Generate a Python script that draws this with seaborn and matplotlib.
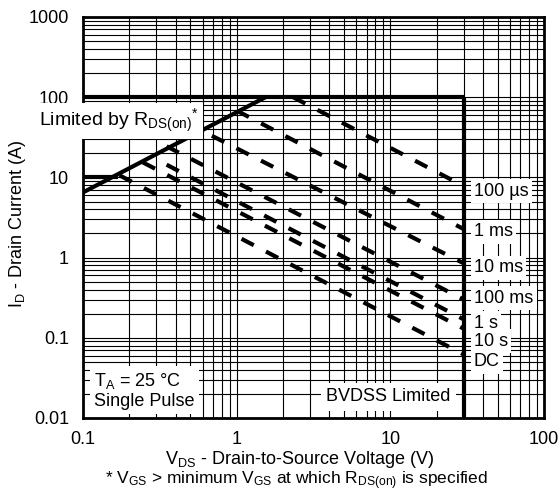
import numpy as np
import pandas as pd
import matplotlib
matplotlib.use("Agg")
import matplotlib.pyplot as plt
import seaborn as sns
from matplotlib.ticker import FixedLocator, FixedFormatter, LogLocator, NullFormatter

# ---------------- data ----------------
curve_names = ["100 µs", "1 ms", "10 ms", "100 ms", "1 s", "10 s", "DC"]
v_start = [2.33, 1.0, 0.69, 0.35, 0.35, 0.245, 0.173]
i_start = [100, 68, 33, 24.4, 14.4, 15.4, 10.6]
v_end = [30, 30, 30, 30, 30, 30, 30]
i_end = [7.8, 2.27, 0.85, 0.30, 0.17, 0.13, 0.062]
label_i = [6.7, 2.1, 0.75, 0.31, 0.152, 0.0905, 0.05]
label_v = 35.0

rds_v = [0.1, 1.54]
rds_i = [6.5, 100]
id_cont_v = [0.1, 0.17]
id_cont_i = [10, 10]
id_pulse_v = [0.1, 30]
id_pulse_i = [100, 100]
bvdss_v = [30, 30]
bvdss_i = [0.01, 100]

x_ticks = [0.1, 1, 10, 100]
x_tick_labels = ["0.1", "1", "10", "100"]
y_ticks = [0.01, 0.1, 1, 10, 100, 1000]
y_tick_labels = ["0.01", "0.1", "1", "10", "100", "1000"]

# ---------------- style ----------------
sns.set_theme(style="white")
plt.rcParams["font.family"] = ["Liberation Sans", "DejaVu Sans"]
plt.rcParams["mathtext.fontset"] = "custom"
plt.rcParams["mathtext.rm"] = "Liberation Sans"
plt.rcParams["mathtext.it"] = "Liberation Sans:italic"
plt.rcParams["mathtext.bf"] = "Liberation Sans:bold"

W, H = 558, 491
fig = plt.figure(figsize=(W / 100, H / 100), dpi=100)
L, R, T, B = 83, 544, 17, 418
ax = fig.add_axes([L / W, 1 - B / H, (R - L) / W, (B - T) / H])
ax.set_xscale("log")
ax.set_yscale("log")

# solid boundary lines
for xs, ys in [(id_pulse_v, id_pulse_i), (bvdss_v, bvdss_i), (id_cont_v, id_cont_i), (rds_v, rds_i)]:
    sns.lineplot(x=xs, y=ys, ax=ax, color="black", linewidth=3, sort=False,
                 estimator=None, solid_capstyle="butt")

# dashed pulse curves
for name, vs, is_, ve, ie in zip(curve_names, v_start, i_start, v_end, i_end):
    df = pd.DataFrame({"V": [vs, ve], "I": [is_, ie]})
    sns.lineplot(data=df, x="V", y="I", ax=ax, color="black", linewidth=3,
                 sort=False, estimator=None, linestyle=(0, (3.3, 3.3)))

ax.set_xlim(0.1, 100)
ax.set_ylim(0.01, 1000)
ax.set_xlabel("")
ax.set_ylabel("")

# grid / ticks
ax.xaxis.set_major_locator(FixedLocator(x_ticks))
ax.xaxis.set_major_formatter(FixedFormatter(x_tick_labels))
ax.yaxis.set_major_locator(FixedLocator(y_ticks))
ax.yaxis.set_major_formatter(FixedFormatter(y_tick_labels))
ax.xaxis.set_minor_locator(LogLocator(base=10, subs=np.arange(2, 10), numticks=50))
ax.yaxis.set_minor_locator(LogLocator(base=10, subs=np.arange(2, 10), numticks=50))
ax.xaxis.set_minor_formatter(NullFormatter())
ax.yaxis.set_minor_formatter(NullFormatter())
ax.set_axisbelow(True)
ax.grid(True, which="both", color="black", linewidth=0.8)
ax.tick_params(which="both", length=0, labelsize=13, colors="black")
ax.tick_params(axis="x", pad=9)
ax.tick_params(axis="y", pad=10)
for s in ax.spines.values():
    s.set_color("black")
    s.set_linewidth(2)

# labels for curves
for name, li in zip(curve_names, label_i):
    ax.text(label_v, li, name, fontsize=13, ha="left", va="center", color="black",
            bbox=dict(facecolor="white", edgecolor="none", pad=2.5), zorder=5)

ax.text(0.0518, 43.5, r"Limited by R$_{\mathregular{DS(on)}}{}^{\mathregular{*}}$",
        fontsize=14, ha="left", va="baseline", color="black", clip_on=False,
        bbox=dict(facecolor="white", edgecolor="none", pad=3), zorder=5)
ax.text(9.7, 0.0184, "BVDSS Limited", fontsize=13, ha="center", va="center",
        color="black", bbox=dict(facecolor="white", edgecolor="none", pad=4), zorder=5)
ax.text(0.118, 0.0222, "T$_{\\mathregular{A}}$ = 25 °C\nSingle Pulse", fontsize=13,
        ha="left", va="center", color="black", linespacing=1.15,
        bbox=dict(facecolor="white", edgecolor="none", pad=3), zorder=5)

# axis labels
fig.text(18 / W, 1 - 224 / H, r"I$_{\mathregular{D}}$ - Drain Current (A)", rotation=90,
         fontsize=13, ha="center", va="center", color="black")
fig.text(300 / W, 1 - 464 / H, r"V$_{\mathregular{DS}}$ - Drain-to-Source Voltage (V)",
         fontsize=13, ha="center", va="baseline", color="black")
fig.text(296 / W, 1 - 484 / H,
         r"* V$_{\mathregular{GS}}$ > minimum V$_{\mathregular{GS}}$ at which R$_{\mathregular{DS(on)}}$ is specified",
         fontsize=12.5, ha="center", va="baseline", color="black")

fig.savefig("out.png", dpi=100)
